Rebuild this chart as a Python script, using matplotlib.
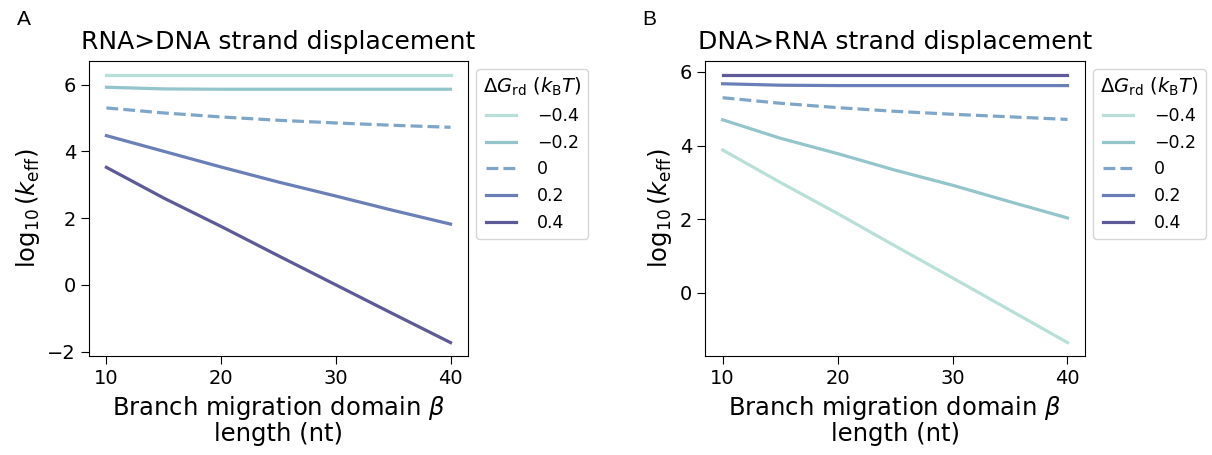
import matplotlib
matplotlib.use("Agg")
import matplotlib.pyplot as plt

# branch migration domain length (nt)
beta_len = [10, 15, 20, 25, 30, 35, 40]
dG_labels = ["\u22120.4", "\u22120.2", "0", "0.2", "0.4"]

# RNA>DNA strand displacement, log10(k_eff), one list per dG_rd
rna_dna = [
    [6.30, 6.30, 6.30, 6.30, 6.30, 6.30, 6.30],
    [5.92, 5.87, 5.86, 5.86, 5.86, 5.86, 5.86],
    [5.30, 5.15, 5.03, 4.93, 4.85, 4.78, 4.72],
    [4.47, 4.00, 3.53, 3.08, 2.66, 2.23, 1.82],
    [3.52, 2.60, 1.75, 0.87, 0.00, -0.87, -1.73],
]
# DNA>RNA strand displacement
dna_rna = [
    [3.88, 3.00, 2.15, 1.27, 0.40, -0.48, -1.36],
    [4.70, 4.20, 3.78, 3.33, 2.92, 2.47, 2.03],
    [5.30, 5.15, 5.03, 4.93, 4.85, 4.78, 4.71],
    [5.68, 5.64, 5.63, 5.63, 5.63, 5.63, 5.63],
    [5.93, 5.93, 5.93, 5.93, 5.93, 5.93, 5.93],
]

colors = ["#b9e0d8", "#93c5cb", "#7fa6c8", "#6a7fb8", "#5d5a97"]
styles = ["-", "-", "--", "-", "-"]

fig = plt.figure(figsize=(12.12, 4.55), dpi=100)
ax_a = fig.add_axes([0.0736, 0.2176, 0.3123, 0.648])
ax_b = fig.add_axes([0.582, 0.2176, 0.313, 0.648])

panels = [
    (ax_a, rna_dna, "RNA>DNA strand displacement", "A", 0.014),
    (ax_b, dna_rna, "DNA>RNA strand displacement", "B", 0.5297),
]

for ax, series, title, letter, lx in panels:
    for vals, lab, c, ls in zip(series, dG_labels, colors, styles):
        ax.plot(beta_len, vals, color=c, linestyle=ls, linewidth=2.3, label=lab)
    ax.set_xticks([10, 20, 30, 40])
    ax.set_title(title, fontsize=18, pad=9)
    ax.set_ylabel(r"$\log_{10}(k_{\rm eff})$", fontsize=17.5)
    ax.set_xlabel("Branch migration domain $\\beta$\nlength (nt)", fontsize=17.5,
                  linespacing=1.0, labelpad=4)
    ax.tick_params(labelsize=14, length=6)
    leg = ax.legend(title=r"$\Delta G_{\rm rd}$ ($k_{\rm B}T$)", loc="upper left",
                    bbox_to_anchor=(1.023, 0.973), borderaxespad=0,
                    fontsize=12.5, title_fontsize=14,
                    frameon=True, fancybox=True, borderpad=0.4, labelspacing=0.5,
                    handlelength=1.75, handletextpad=1.2)
    leg.get_frame().set_edgecolor("#cccccc")
    fig.text(lx, 0.958, letter, fontsize=15, family="Liberation Sans",
             ha="left", va="center")

fig.savefig("out.png", dpi=100)
